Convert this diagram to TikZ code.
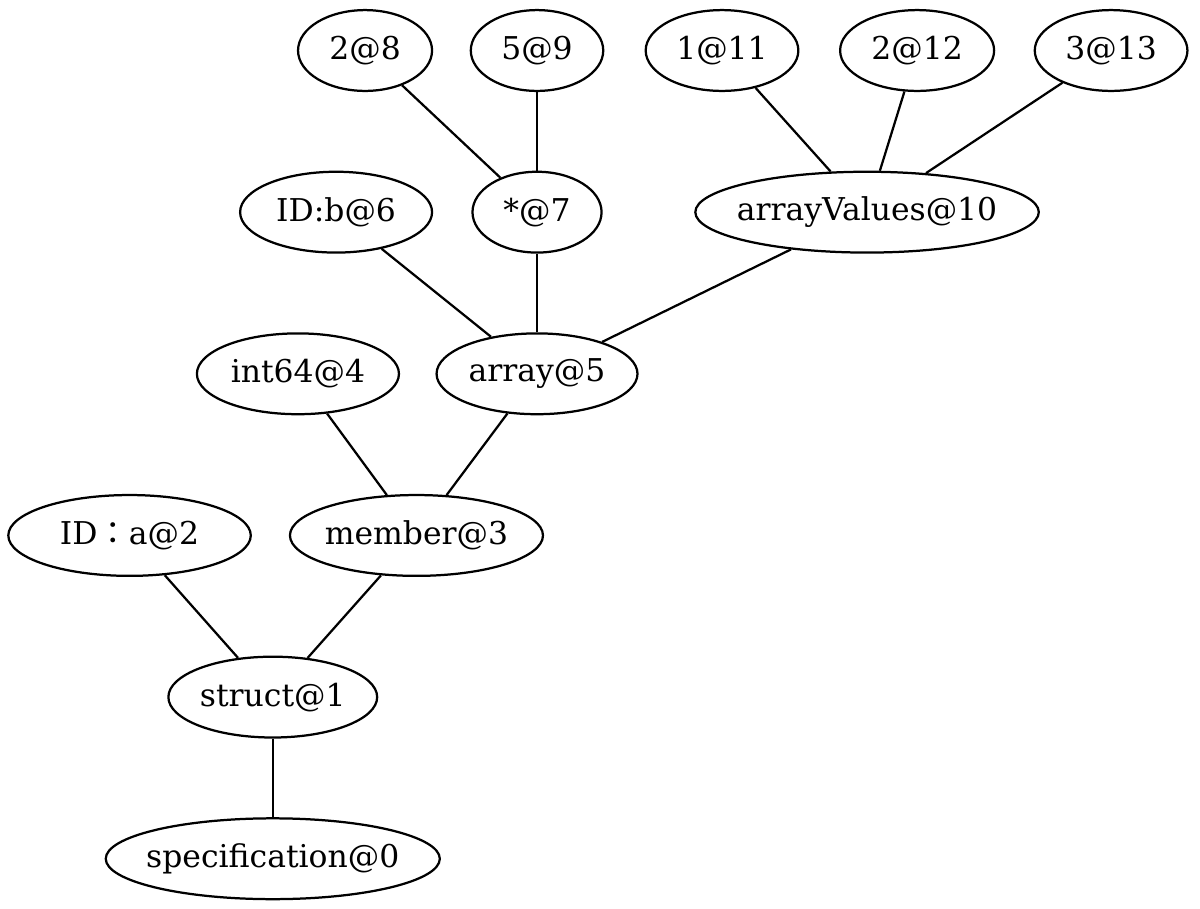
\documentclass[tikz,border=0pt]{standalone}
\usepackage{fontspec}
\setmainfont{DejaVu Serif}
\newfontfamily\cjk{Noto Sans CJK JP}
\usetikzlibrary{shapes.geometric}

\begin{document}
\begin{tikzpicture}[x=1pt,y=1pt,
    astnode/.style={draw,ellipse,line width=1pt,inner xsep=-4pt,inner ysep=0pt,
      minimum height=36pt,font=\fontsize{14}{16}\selectfont}]
        \useasboundingbox (0,0) rectangle (534.5,404.5);
        \foreach \i/\x/\y/\w/\t in {0/121.5/22/148.8/specification@0,
        1/121.5/94/93/struct@1, 2/57.7/166/108/{ID{\cjk ：}a@2},
        3/185.5/166/112.7/member@3, 4/132.7/238/90/int64@4,
        5/239.2/238/89.5/array@5, 6/149.7/310/85.5/ID:b@6,
        7/239.2/310/57.5/*@7, 8/162.6/382/59.7/2@8, 9/239.2/382/59/5@9,
        10/386.2/310/153/arrayValues@10, 11/321.6/382/68/1@11,
        12/408.5/382/68.6/2@12, 13/494.9/382/68/3@13} {
        \node[astnode,minimum width=\w pt] (n\i) at (\x,\y) {\t}; }
        \foreach \a/\b in {0/1,1/2,1/3,3/4,3/5,5/6,5/7,5/10,7/8,7/9,
        10/11,10/12,10/13} {
        \draw[line width=1pt] (n\a) -- (n\b); }
      \end{tikzpicture}
\end{document}
